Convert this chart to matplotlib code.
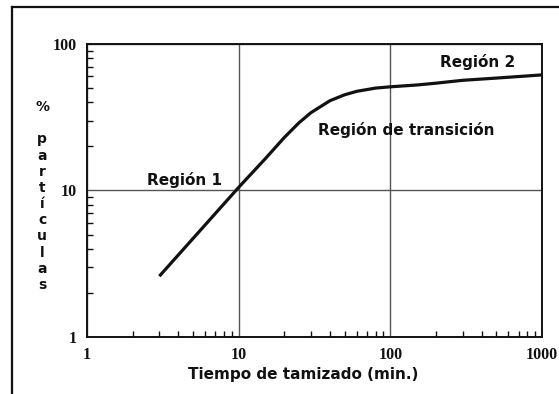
import numpy as np
import matplotlib
matplotlib.use("Agg")
import matplotlib.pyplot as plt
from matplotlib.lines import Line2D
from matplotlib.ticker import LogLocator, NullFormatter, FixedLocator, FixedFormatter

# curva de tamizado: tiempo (min) vs % de partículas
tiempo = [3, 5, 10, 15, 20, 25, 30, 40, 50, 60, 80, 100, 150, 200, 300, 500, 1000]
particulas = [2.6, 4.7, 10.5, 16.5, 23, 29, 34, 41, 45, 47.5, 50, 51, 52.5, 54, 56.5, 58.5, 61.5]

xticks = [1, 10, 100, 1000]
xtick_labels = ["1", "10", "100", "1000"]
yticks = [1, 10, 100]
ytick_labels = ["1", "10", "100"]

ink = "#111111"

fig = plt.figure(figsize=(5.59, 3.94), dpi=100)
ax = fig.add_axes([0.1556, 0.1447, 0.814, 0.7437])

ax.plot(tiempo, particulas, color=ink, lw=2.3, solid_capstyle="butt", solid_joinstyle="round")

ax.set_xscale("log")
ax.set_yscale("log")
ax.set_xlim(1, 1000)
ax.set_ylim(1, 100)

ax.xaxis.set_major_locator(FixedLocator(xticks))
ax.xaxis.set_major_formatter(FixedFormatter(xtick_labels))
ax.yaxis.set_major_locator(FixedLocator(yticks))
ax.yaxis.set_major_formatter(FixedFormatter(ytick_labels))
ax.xaxis.set_minor_locator(LogLocator(base=10, subs=np.arange(2, 10)))
ax.yaxis.set_minor_locator(LogLocator(base=10, subs=np.arange(2, 10)))
ax.xaxis.set_minor_formatter(NullFormatter())
ax.yaxis.set_minor_formatter(NullFormatter())

ax.tick_params(which="major", length=0, pad=7)
ax.tick_params(which="minor", direction="in", length=4, width=1, color=ink)
for lab in ax.get_xticklabels() + ax.get_yticklabels():
    lab.set_fontfamily("Liberation Serif")
    lab.set_fontweight("bold")
    lab.set_fontsize(11.5)
    lab.set_color(ink)

ax.grid(True, which="major", color="#555555", lw=1.0)
ax.set_axisbelow(True)

for side in ["left", "bottom", "top", "right"]:
    ax.spines[side].set_color(ink)
    ax.spines[side].set_linewidth(1.4)

txt = dict(fontfamily="DejaVu Sans", fontweight="bold", fontsize=11, color=ink,
           transform=ax.transAxes)
ax.text(0.2154, 0.536, "Región 1", ha="center", va="center", **txt)
ax.text(0.5077, 0.7065, "Región de transición", ha="left", va="center", **txt)
ax.text(0.9407, 0.9386, "Región 2", ha="right", va="center", **txt)

fig.text(303 / 559, 1 - 375 / 394, "Tiempo de tamizado (min.)", ha="center", va="center",
         fontfamily="DejaVu Sans", fontweight="bold", fontsize=11, color=ink)
fig.text(42 / 559, 1 - 196 / 394, "%\n\np\na\nr\nt\ní\nc\nu\nl\na\ns", ha="center", va="center",
         fontfamily="DejaVu Sans", fontweight="bold", fontsize=10, color=ink, linespacing=1.2)

# marco exterior (solo lados izquierdo y superior quedan dentro)
fig.add_artist(Line2D([11.5 / 559, 11.5 / 559], [0, 1 - 6.5 / 394], color=ink, lw=1.6,
                      transform=fig.transFigure))
fig.add_artist(Line2D([11.5 / 559, 1], [1 - 6.5 / 394, 1 - 6.5 / 394], color=ink, lw=1.6,
                      transform=fig.transFigure))

fig.savefig("out.png", dpi=100)
